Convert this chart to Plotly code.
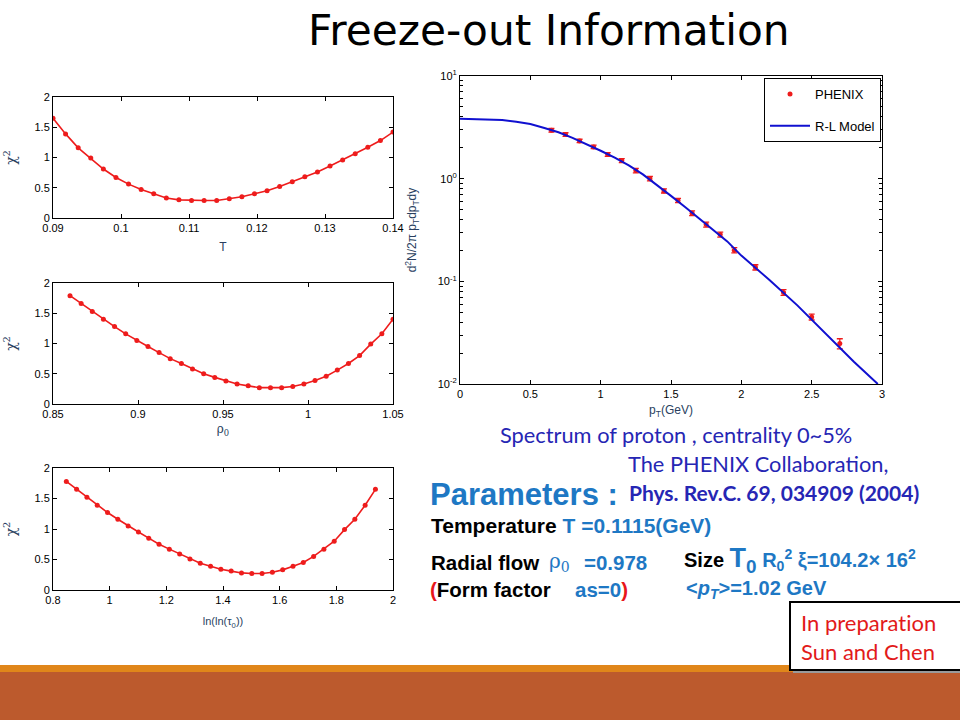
import plotly.graph_objects as go
import numpy as np

# ---------------- data ----------------
T_vals = list(np.linspace(0.09, 0.14, 28))
chi2_T = [1.65, 1.39, 1.16, 0.99, 0.81, 0.67, 0.56, 0.47, 0.40, 0.33, 0.30, 0.29, 0.29, 0.29,
          0.32, 0.35, 0.40, 0.45, 0.52, 0.60, 0.68, 0.76, 0.86, 0.96, 1.06, 1.17, 1.28, 1.42]

rho_vals = list(np.linspace(0.86, 1.05, 30))
chi2_rho = [1.79, 1.66, 1.53, 1.40, 1.28, 1.16, 1.05, 0.95, 0.85, 0.75, 0.67, 0.58, 0.50, 0.44, 0.38,
            0.33, 0.30, 0.27, 0.27, 0.27, 0.29, 0.33, 0.39, 0.46, 0.56, 0.67, 0.80, 0.99, 1.16, 1.40]

tau_vals = list(np.linspace(0.847, 1.938, 31))
chi2_tau = [1.78, 1.65, 1.52, 1.39, 1.27, 1.16, 1.05, 0.95, 0.85, 0.75, 0.67, 0.59, 0.51, 0.44, 0.39,
            0.34, 0.31, 0.28, 0.27, 0.27, 0.29, 0.33, 0.39, 0.45, 0.55, 0.67, 0.80, 0.99, 1.16, 1.39, 1.65]

pt_data = [0.65, 0.75, 0.85, 0.95, 1.05, 1.15, 1.25, 1.35, 1.45, 1.55, 1.65, 1.75, 1.85, 1.95, 2.1, 2.3, 2.5, 2.7]
yield_data = [2.96, 2.69, 2.33, 2.04, 1.72, 1.50, 1.20, 1.00, 0.76, 0.613, 0.461, 0.357, 0.286, 0.201,
              0.137, 0.078, 0.045, 0.0248]
yield_err = [0.12, 0.11, 0.09, 0.08, 0.07, 0.07, 0.06, 0.05, 0.035, 0.03, 0.025, 0.02, 0.016, 0.012,
             0.008, 0.005, 0.003, 0.0028]

pt_model = [0, 0.1, 0.2, 0.3, 0.4, 0.5, 0.6, 0.7, 0.8, 0.9, 1.0, 1.1, 1.2, 1.3, 1.4, 1.5, 1.6, 1.7,
            1.8, 1.9, 2.0, 2.2, 2.4, 2.6, 2.8, 2.97]
yield_model = [3.84, 3.8, 3.76, 3.72, 3.58, 3.4, 3.12, 2.83, 2.5, 2.18, 1.87, 1.6, 1.35, 1.1, 0.87,
               0.68, 0.53, 0.41, 0.32, 0.245, 0.178, 0.103, 0.058, 0.031, 0.0165, 0.01]

RED = "#EE1C1C"
BLUE = "#1010D0"

W, H = 960, 720
def px(x): return x / W
def py(y): return 1 - y / H

fig = go.Figure()

panels = [
    ("x", "y", T_vals, chi2_T),
    ("x2", "y2", rho_vals, chi2_rho),
    ("x3", "y3", tau_vals, chi2_tau),
]
for xa, ya, xs, ys in panels:
    fig.add_trace(go.Scatter(x=xs, y=ys, xaxis=xa, yaxis=ya, mode="lines+markers",
                             line=dict(color=RED, width=1.6),
                             marker=dict(color=RED, size=5, symbol="circle"),
                             showlegend=False))

fig.add_trace(go.Scatter(x=pt_data, y=yield_data, xaxis="x4", yaxis="y4", mode="markers",
                         marker=dict(color=RED, size=5),
                         error_y=dict(type="data", array=yield_err, color=RED, thickness=1.3, width=3),
                         name="PHENIX", legendgroup="a"))
fig.add_trace(go.Scatter(x=pt_model, y=yield_model, xaxis="x4", yaxis="y4", mode="lines",
                         line=dict(color=BLUE, width=2), name="R-L Model", legendgroup="b"))

tickfont = dict(family="Liberation Sans, Arial", size=11, color="black")
common = dict(showline=True, linecolor="black", linewidth=1, mirror="ticks", ticks="inside",
              ticklen=4, tickcolor="black", showgrid=False, zeroline=False, tickfont=tickfont,
              automargin=False)

L, R = px(53), px(393)
chi_title = dict(text="χ<sup>2</sup>", font=dict(size=14, family="DejaVu Serif"), standoff=14)
fig.update_layout(
    xaxis=dict(domain=[L, R], anchor="y", range=[0.09, 0.14], dtick=0.01,
               title=dict(text="T", font=dict(size=12, family="Liberation Sans"), standoff=9), **common),
    yaxis=dict(domain=[py(218), py(97)], anchor="x", range=[0, 2], dtick=0.5, title=chi_title, **common),
    xaxis2=dict(domain=[L, R], anchor="y2", range=[0.85, 1.05], dtick=0.05,
                title=dict(text="ρ<sub>0</sub>", font=dict(size=12, family="DejaVu Serif"), standoff=5), **common),
    yaxis2=dict(domain=[py(404), py(283)], anchor="x2", range=[0, 2], dtick=0.5, title=chi_title, **common),
    xaxis3=dict(domain=[L, R], anchor="y3", range=[0.8, 2], dtick=0.2,
                title=dict(text="ln(ln(τ<sub>0</sub>))", font=dict(size=11, family="Liberation Sans Narrow, Liberation Sans"), standoff=12), **common),
    yaxis3=dict(domain=[py(590), py(468)], anchor="x3", range=[0, 2], dtick=0.5, title=chi_title, **common),
    xaxis4=dict(domain=[px(460), px(882)], anchor="y4", range=[0, 3], dtick=0.5,
                title=dict(text="p<sub>T</sub>(GeV)", font=dict(size=12, family="Liberation Sans"), standoff=6), **common),
    yaxis4=dict(domain=[py(384), py(76)], anchor="x4", type="log", range=[-2, 1],
                tickvals=[0.01, 0.1, 1, 10],
                ticktext=["10<sup>-2</sup>", "10<sup>-1</sup>", "10<sup>0</sup>", "10<sup>1</sup>"],
                minor=dict(tickvals=[m * 10.0 ** e for e in (-2, -1, 0) for m in range(2, 10)],
                           ticks="inside", ticklen=3, tickcolor="black"),
                title=dict(text="d<sup>2</sup>N/2π p<sub>T</sub>dp<sub>T</sub>dy",
                           font=dict(size=12, family="Liberation Sans"), standoff=18), **common),
    legend=dict(x=px(764), y=py(78), xanchor="left", yanchor="top", bgcolor="white",
                bordercolor="black", borderwidth=1, itemwidth=40, tracegroupgap=12,
                font=dict(family="Liberation Sans", size=13, color="black")),
    width=W, height=H, margin=dict(l=0, r=0, t=0, b=0, pad=0, autoexpand=False),
    paper_bgcolor="white", plot_bgcolor="white", showlegend=True,
)

shapes = [
    dict(type="rect", xref="paper", yref="paper", x0=0, x1=1, y0=py(672), y1=py(665),
         fillcolor="#E0861A", line=dict(width=0), layer="below"),
    dict(type="rect", xref="paper", yref="paper", x0=0, x1=1, y0=0, y1=py(672),
         fillcolor="#BC5A2D", line=dict(width=0), layer="below"),
    dict(type="rect", xref="paper", yref="paper", x0=px(793), x1=1.01, y0=py(673), y1=py(605),
         fillcolor="#9A9A9A", line=dict(width=0)),
    dict(type="rect", xref="paper", yref="paper", x0=px(790), x1=1.01, y0=py(670), y1=py(602),
         fillcolor="white", line=dict(color="black", width=2)),
]
fig.update_layout(shapes=shapes)

TB = "#1E78C4"   # parameter blue
DB = "#2626B4"   # citation blue
RD = "#E8161B"
ann = []
def A(text, x, y, size, color="black", family="Liberation Sans", xanchor="left"):
    ann.append(dict(text=text, x=px(x), y=py(y), xref="paper", yref="paper", showarrow=False,
                    xanchor=xanchor, yanchor="middle", font=dict(size=size, color=color, family=family)))

A("Freeze-out Information", 549, 31, 42.3, "black", "DejaVu Sans", "center")
A("Spectrum of proton , centrality 0~5%", 676, 434, 21.8, DB, "Lato", "center")
A("The PHENIX Collaboration,", 758, 463, 21.8, DB, "Lato", "center")
A("<b>Parameters :</b>", 428, 494, 31, TB, "Liberation Sans")
A("<b>Phys. Rev.C. 69, 034909 (2004)</b>", 627, 492, 21, DB, "Lato")
A("<b>Temperature <span style='color:%s'>T =0.1115(GeV)</span></b>" % TB, 429, 525, 21)
A("<b>Radial flow</b>", 429, 562, 20.5)
A("ρ<sub>0</sub>", 547, 562, 20, TB, "DejaVu Serif")
A("<b>=0.978</b>", 582, 562, 20.5, TB)
A("<b>Size <span style='color:%s;font-size:27px'>T<sub>0</sub></span> "
  "<span style='color:%s'>R<sub>0</sub><sup>2</sup> ξ=104.2× 16<sup>2</sup></span></b>" % (TB, TB), 682, 560, 20)
A("<b><span style='color:%s'>(</span>Form factor</b>" % RD, 428, 589, 20.5)
A("<b>as=0<span style='color:%s'>)</span></b>" % RD, 573, 589, 20.5, TB)
A("<b>&lt;<i>p<sub>T</sub></i>&gt;=1.02 GeV</b>", 684, 589, 20, TB)
A("In preparat\u200cion", 799, 622, 22, "#E21A1A", "Lato")
A("Sun and Chen", 799, 651, 22, "#E21A1A", "Lato")
fig.update_layout(annotations=ann)

fig.write_html("out.html", config={"displayModeBar": False},
               post_script="document.documentElement.style.overflow='hidden';"
                           "document.body.style.margin='0';document.body.style.overflow='hidden';")
